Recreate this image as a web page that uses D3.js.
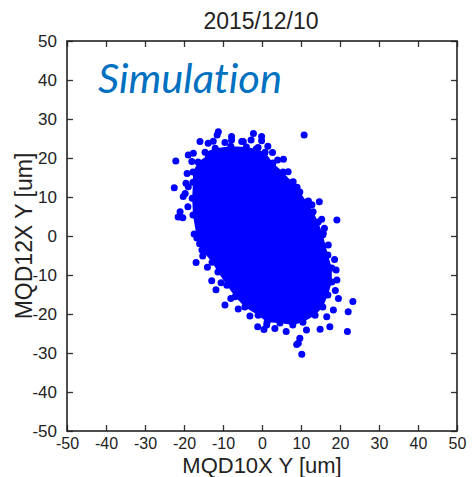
<!DOCTYPE html>
<html>
<head>
<meta charset="utf-8">
<script src="https://cdn.jsdelivr.net/npm/d3@7"></script>
<style>
  body { margin: 0; background: #fff; }
  svg { display: block; }
</style>
</head>
<body>
<div id="chart"></div>
<script>
// values (units: um)
const title = '2015/12/10';
const note = 'Simulation';
const xLabel = 'MQD10X Y [um]';
const yLabel = 'MQD12X Y [um]';
const xTicks = [-50, -40, -30, -20, -10, 0, 10, 20, 30, 40, 50];
const yTicks = [-50, -40, -30, -20, -10, 0, 10, 20, 30, 40, 50];

// outline of the saturated core of the cloud (points overlap into solid blue there)
const coreOutline = [
  [-14.6, 21.5], [-12.0, 22.5], [-8.0, 23.0], [-4.0, 22.8], [-1.5, 22.3],
  [0.8, 21.5], [2.8, 18.7], [5.4, 16.4], [7.7, 13.8], [9.7, 11.3], [11.5, 8.7],
  [13.1, 6.2], [14.4, 3.6], [15.6, 0.3], [16.9, -4.9], [17.9, -8.2],
  [17.9, -11.8], [16.9, -15.1], [15.6, -18.2], [13.6, -20.3], [10.5, -22.1],
  [7.9, -22.8], [4.6, -22.3], [1.3, -22.1], [-1.0, -20.3], [-4.4, -18.2],
  [-6.9, -15.6], [-9.0, -12.6], [-11.3, -9.2], [-12.8, -6.7], [-15.4, -3.6],
  [-16.7, -0.5], [-17.7, 5.4], [-17.9, 9.7], [-17.7, 13.8], [-17.7, 16.4],
  [-16.4, 19.0], [-13.8, 20.8]
];

// individual points outside the core
const outliers = [
  [10.8, 25.9], [-11.2, 26.7], [-11.5, 25.9], [-2.2, 26.3], [-0.1, 25.5],
  [-0.1, 24.4], [-7.8, 25.5], [-5.2, 24.2], [-15.9, 24.2], [-1.0, 22.7],
  [2.7, 21.4], [5.5, 19.7], [-22.1, 19.2], [-18.9, 20.8], [-17.6, 21.2],
  [-22.5, 12.4], [-19.5, 13.5], [-20.2, 10.1], [-21.0, 6.2], [-21.5, 4.9],
  [-20.3, 4.7], [19.2, 4.1], [15.3, 4.3], [14.7, 8.8], [11.9, 9.0],
  [8.0, 13.9], [6.7, 16.5], [-16.9, -6.8], [-12.9, -11.5], [-11.8, -13.8],
  [-9.5, -17.7], [-6.1, -18.7], [-3.1, -20.5], [-1.1, -23.3], [1.2, -22.8],
  [3.3, -23.7], [6.2, -24.5], [9.7, -26.2], [9.3, -27.5], [10.2, -30.3],
  [11.4, -24.1], [14.9, -23.9], [17.4, -23.3], [21.9, -24.5], [23.3, -16.8],
  [22.1, -19.4], [19.6, -16.0], [18.3, -19.0], [16.6, -20.7], [19.2, -11.3],
  [19.0, -8.7], [17.0, -2.3], [15.7, 0.7], [-15.2, -5.1], [-17.4, 0.5],
  [8.9, -27.8], [-13.8, 23.8], [-7.8, 24.6], [-4.8, 24.2], [-3.5, 21.6],
  [-18.0, 19.1], [-18.9, 12.6], [-19.7, 10.9], [-9.5, 24.0], [-12.5, 24.3],
  [-2.8, 24.6], [1.5, 23.0], [4.0, 19.5], [9.0, 12.5], [12.8, 8.0],
  [16.0, 2.0], [18.6, -6.0], [18.8, -14.0], [-16.0, -2.0], [-14.0, -8.0],
  [-10.5, -12.0], [-8.0, -16.0], [0.5, -24.0], [-19.0, 7.5], [-19.2, 16.0]
];

let margin = {top: 41, right: 15, bottom: 46, left: 67};
let elWidth = 472, elHeight = 477;
let width = elWidth - margin.left - margin.right;
let height = elHeight - margin.top - margin.bottom;

let svg = d3.select('#chart').append('svg')
    .attr('width', elWidth)
    .attr('height', elHeight);
let g = svg.append('g').attr('transform', 'translate(' + margin.left + ',' + margin.top + ')');

let x = d3.scaleLinear().domain([-50, 50]).range([0, width]);
let y = d3.scaleLinear().domain([-50, 50]).range([height, 0]);

const font = '"Liberation Sans", Arial, Helvetica, sans-serif';
const plain = d => String(d);   // hyphen-minus like the original, not U+2212

// points
g.append('path')
    .datum(coreOutline)
    .attr('fill', '#0000ff')
    .attr('d', d3.line().x(d => x(d[0])).y(d => y(d[1])).curve(d3.curveLinearClosed));

g.selectAll('circle.pt')
    .data(coreOutline.concat(outliers))
    .join('circle')
    .attr('class', 'pt')
    .attr('cx', d => x(d[0]))
    .attr('cy', d => y(d[1]))
    .attr('r', 3.5)
    .attr('fill', '#0000ff');

// axes with inward ticks on all four sides
function styleAxis(sel, size) {
    sel.select('.domain').remove();
    sel.selectAll('.tick line').attr('stroke', '#333').attr('stroke-width', 1.3);
    sel.selectAll('.tick text').attr('fill', '#222').style('font-family', font).style('font-size', (size || 17) + 'px');
}

g.append('g')
    .attr('transform', 'translate(0,' + height + ')')
    .call(d3.axisBottom(x).tickValues(xTicks).tickFormat(plain).tickSizeInner(-6).tickSizeOuter(0).tickPadding(7))
    .call(styleAxis, 16);
g.append('g')
    .call(d3.axisTop(x).tickValues(xTicks).tickSizeInner(-6).tickSizeOuter(0).tickFormat(''))
    .call(styleAxis);
g.append('g')
    .call(d3.axisLeft(y).tickValues(yTicks).tickFormat(plain).tickSizeInner(-6).tickSizeOuter(0).tickPadding(10))
    .call(styleAxis);
g.append('g')
    .attr('transform', 'translate(' + width + ',0)')
    .call(d3.axisRight(y).tickValues(yTicks).tickSizeInner(-6).tickSizeOuter(0).tickFormat(''))
    .call(styleAxis);

g.append('rect')
    .attr('width', width)
    .attr('height', height)
    .attr('fill', 'none')
    .attr('stroke', '#222')
    .attr('stroke-width', 1.6);

// texts
svg.append('text')
    .attr('x', margin.left + width / 2 - 1)
    .attr('y', 29)
    .attr('text-anchor', 'middle')
    .attr('fill', '#222')
    .style('font-family', font)
    .style('font-size', '23px')
    .text(title);

svg.append('text')
    .attr('x', margin.left + width / 2)
    .attr('y', 473)
    .attr('text-anchor', 'middle')
    .attr('fill', '#222')
    .style('font-family', font)
    .style('font-size', '22px')
    .text(xLabel);

svg.append('text')
    .attr('transform', 'translate(32,' + (margin.top + height / 2) + ') rotate(-90)')
    .attr('text-anchor', 'middle')
    .attr('fill', '#222')
    .style('font-family', font)
    .style('font-size', '23px')
    .text(yLabel);

svg.append('text')
    .attr('x', 98)
    .attr('y', 93)
    .attr('fill', '#0070c0')
    .attr('textLength', 184)
    .attr('lengthAdjust', 'spacingAndGlyphs')
    .style('font-family', 'Lato, "Open Sans", sans-serif')
    .style('font-style', 'italic')
    .style('font-size', '40px')
    .style('font-variant-ligatures', 'none')
    .text(note);
</script>
</body>
</html>
